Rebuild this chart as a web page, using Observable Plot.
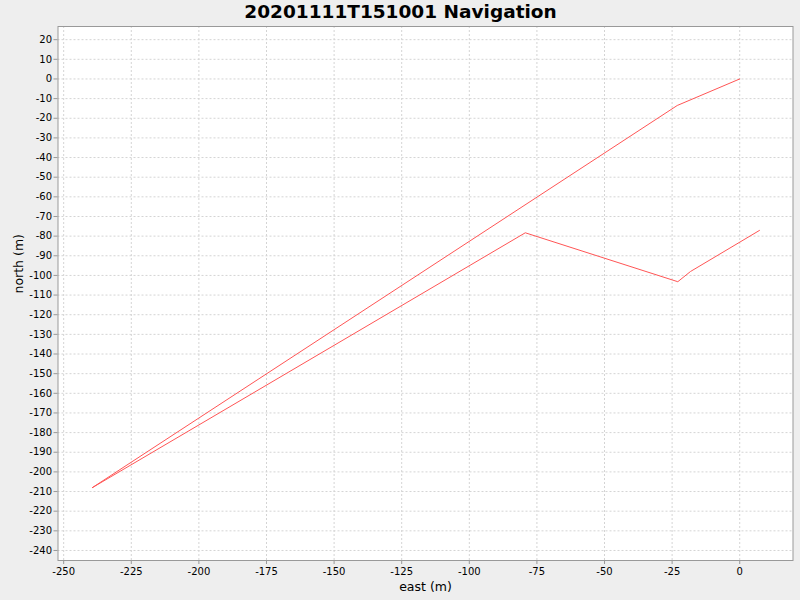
<!DOCTYPE html>
<html>
<head>
<meta charset="utf-8">
<script src="https://cdn.jsdelivr.net/npm/d3@7"></script>
<script src="https://cdn.jsdelivr.net/npm/@observablehq/plot@0.6"></script>
<style>
  html, body { margin: 0; padding: 0; background: #EEEEEE; }
  #chart svg { display: block; }
</style>
</head>
<body>
<div id="chart"></div>
<script>
const title = "20201111T151001 Navigation";
const xLabel = "east (m)";
const yLabel = "north (m)";
const east  = [0, -23.1, -239.5, -79.3, -22.9, -18.2, 7.3];
const north = [0, -13.5, -208.1, -78.3, -103.2, -98.0, -77.1];
const xTicks = [-250, -225, -200, -175, -150, -125, -100, -75, -50, -25, 0];
const yTicks = [20, 10, 0, -10, -20, -30, -40, -50, -60, -70, -80, -90, -100, -110, -120, -130, -140, -150, -160, -170, -180, -190, -200, -210, -220, -230, -240];

const data = east.map((e, i) => ({east: e, north: north[i]}));
const font = "'DejaVu Sans', sans-serif";
const fmt = d => String(d);

const chart = Plot.plot({
  width: 800,
  height: 600,
  marginLeft: 57.5,
  marginRight: 7.5,
  marginTop: 26,
  marginBottom: 40,
  style: {background: "#EEEEEE", fontFamily: font, fontSize: "10px", color: "#000"},
  x: {domain: [-252.1, 19.7]},
  y: {domain: [-245.1, 26.7]},
  marks: [
    Plot.frame({fill: "white", stroke: "none"}),
    Plot.gridX(xTicks, {stroke: "#d4d4d4", strokeOpacity: 1, strokeDasharray: "2,2"}),
    Plot.gridY(yTicks, {stroke: "#d4d4d4", strokeOpacity: 1, strokeDasharray: "2,2"}),
    Plot.frame({stroke: "#999999", strokeWidth: 1}),
    Plot.axisX({ticks: xTicks, tickFormat: fmt, tickSize: 4, tickPadding: 3, label: null, stroke: "#999999", fill: "#000", fontSize: 10}),
    Plot.axisY({ticks: yTicks, tickFormat: fmt, tickSize: 4, tickPadding: 2, label: null, stroke: "#999999", fill: "#000", fontSize: 10}),
    Plot.line(data, {x: "east", y: "north", stroke: "#FF5555", strokeWidth: 1}),
    Plot.text([title], {frameAnchor: "top", lineAnchor: "middle", dx: -25, dy: -14, fontSize: 18.5, fontWeight: "bold", fill: "#000"}),
    Plot.text([xLabel], {frameAnchor: "bottom", lineAnchor: "middle", dy: 26, fontSize: 12.5, fill: "#000"}),
    Plot.text([yLabel], {frameAnchor: "left", lineAnchor: "middle", dx: -39, rotate: -90, fontSize: 12.5, fill: "#000"})
  ]
});
document.getElementById("chart").appendChild(chart);
</script>
</body>
</html>
